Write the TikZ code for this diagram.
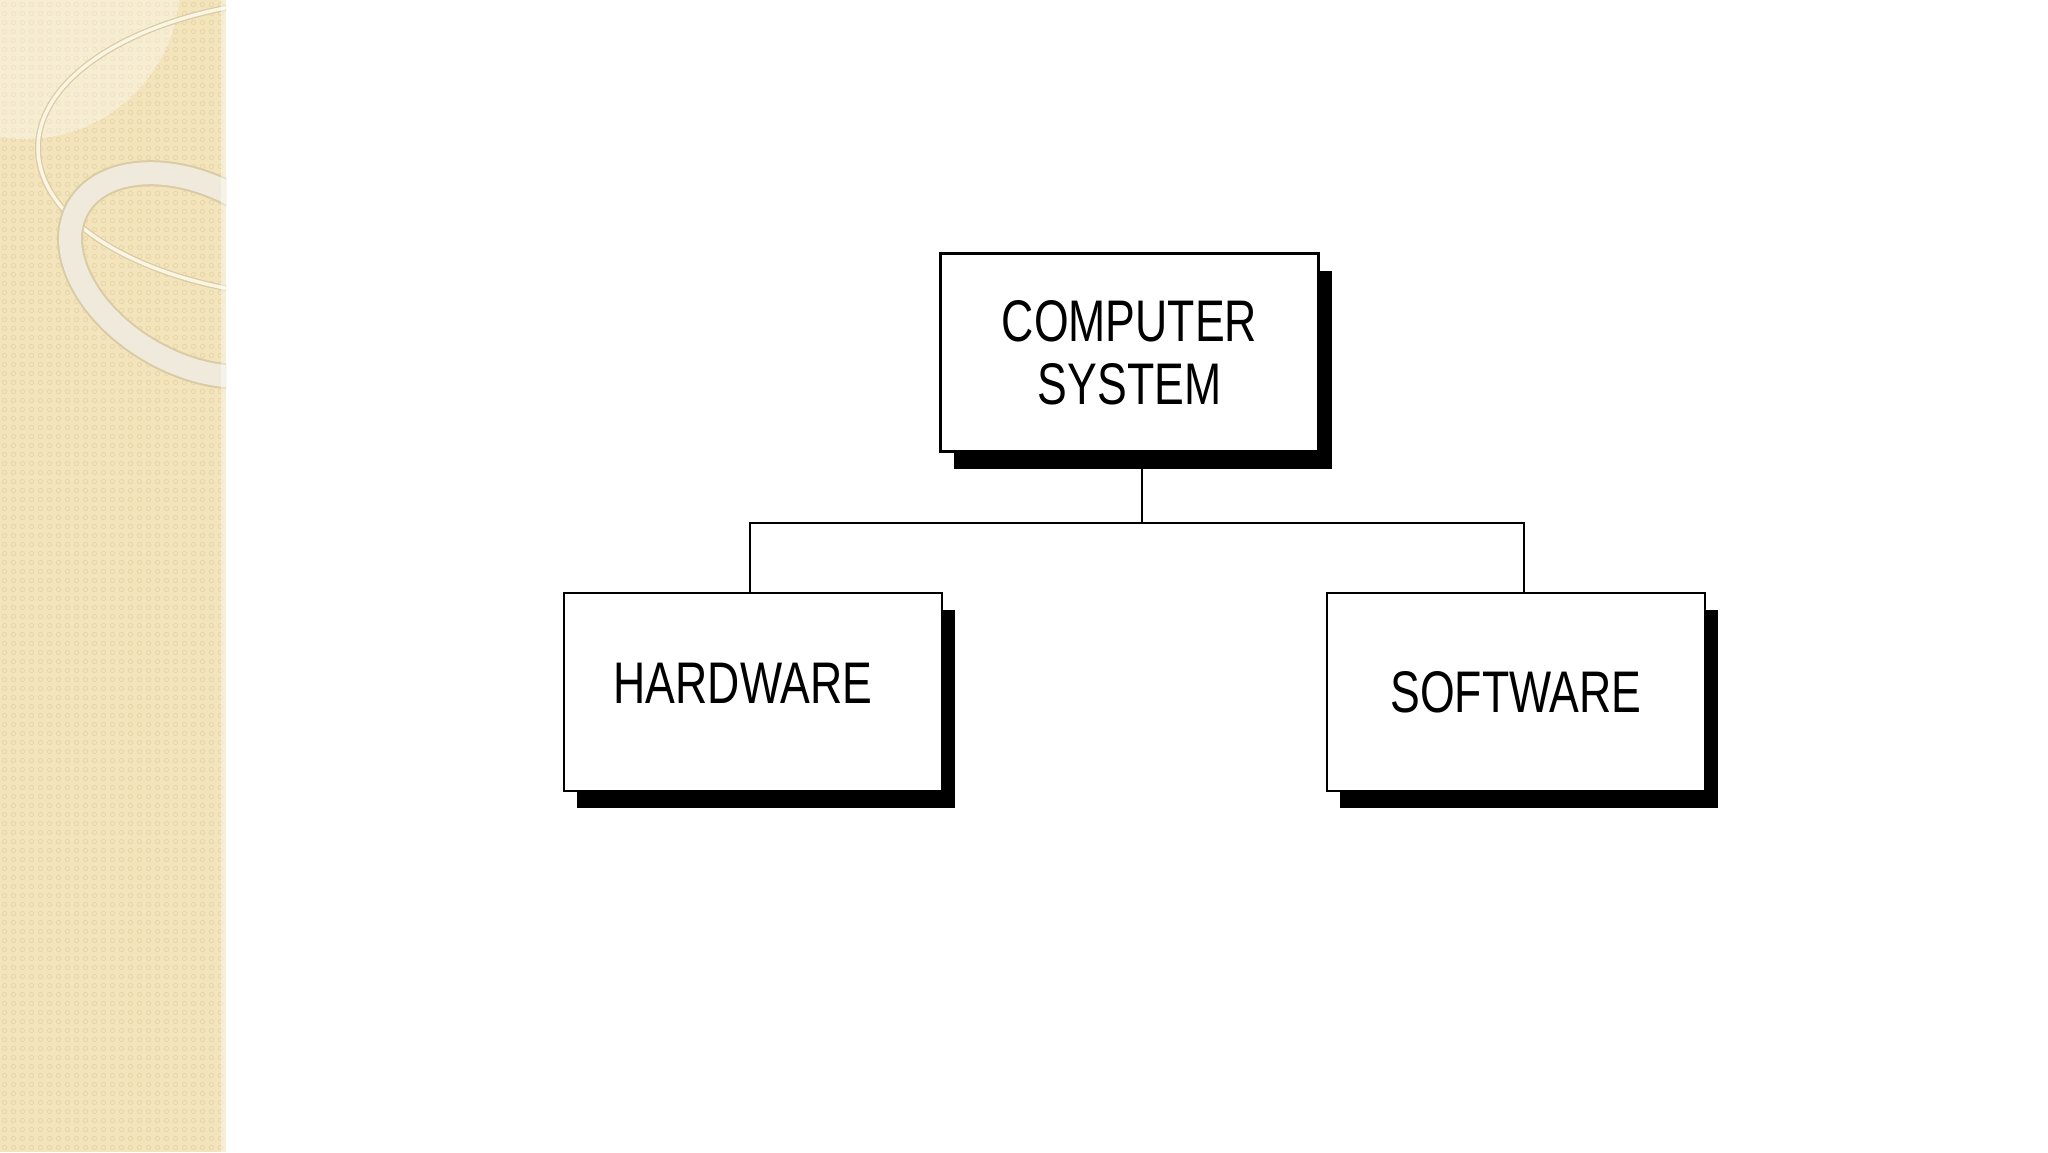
\documentclass[tikz,border=0pt]{standalone}
\usepackage{fontspec}
\newfontfamily\boxfont{Liberation Sans}[FakeStretch=0.76]
\usetikzlibrary{shadows}
\definecolor{band}{HTML}{F3E4BC}
\definecolor{banddot}{HTML}{E8D6A8}
\definecolor{ringedge}{HTML}{D9CBA4}
\definecolor{ringfill}{HTML}{EFEADB}
\definecolor{thinring}{HTML}{FBF6E4}
\begin{document}
\begin{tikzpicture}[x=1pt,y=-1pt,
  box/.style={draw=black, line width=2.5pt, fill=white, minimum width=378pt,
    minimum height=198pt, inner sep=0pt, align=center,
    font=\boxfont\fontsize{58.7}{63}\selectfont,
    drop shadow={shadow xshift=13pt, shadow yshift=-17pt, opacity=1, fill=black}},
  link/.style={line width=2.7pt, line join=miter}]
\useasboundingbox (0,0) rectangle (2048,1152);
\fill[white] (0,0) rectangle (2048,1152);
% decorative band
\begin{scope}
  \clip (0,0) rectangle (226,1152);
  \fill[band] (0,0) rectangle (226,1152);
  \foreach \i in {0,...,25} {
    \foreach \k in {0,...,128} {
      \draw[banddot, line width=0.8pt] (4.5+9*\i, 4.5+9*\k) circle (2.2pt);
    }
  }
  \fill[white, opacity=0.35] (25,-16) circle (155pt);
  \draw[line width=6pt, ringedge] (330,148) ellipse [x radius=292pt, y radius=150pt];
  \draw[line width=3.5pt, thinring] (330,148) ellipse [x radius=292pt, y radius=150pt];
  \draw[line width=26pt, ringedge, rotate around={-30:(195,275)}] (195,275) ellipse [x radius=135pt, y radius=88pt];
  \draw[line width=22pt, ringfill, rotate around={-30:(195,275)}] (195,275) ellipse [x radius=135pt, y radius=88pt];
  \fill[white, opacity=0.4] (221,0) rectangle (226,1152);
\end{scope}
% boxes
\node[box] (cs) at (1129.5,352.5) {COMPUTER\\SYSTEM};
\node[box] (hw) at (753,692) {\raisebox{8.5pt}[\height][0pt]{HARDWARE}\hspace*{20pt}};
\node[box] (sw) at (1516,692) {SOFTWARE};
% connectors
\coordinate (j) at (1142,523);
\coordinate (jl) at (750,523);
\coordinate (jr) at (1524,523);
\draw[link] (cs.south -| j) -- (j);
\draw[link] (hw.north -| jl) -- (jl) -- (jr) -- (sw.north -| jr);
\end{tikzpicture}
\end{document}
